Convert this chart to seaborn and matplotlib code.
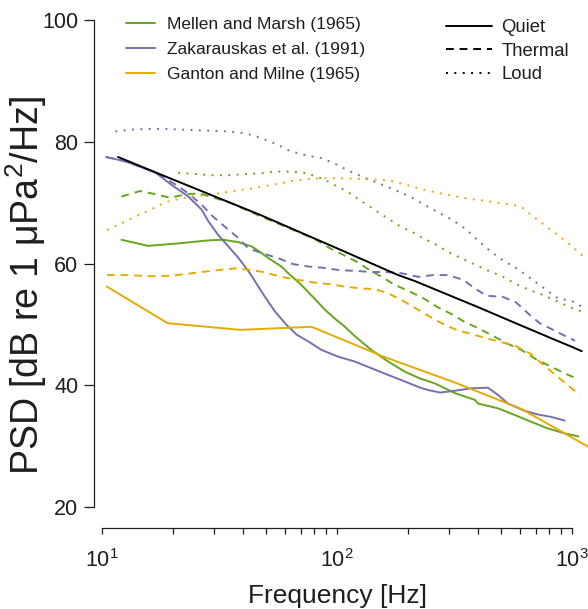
import matplotlib
matplotlib.use("Agg")
import matplotlib.pyplot as plt
from matplotlib.lines import Line2D
import pandas as pd
import seaborn as sns

# ---------------------------------------------------------------------------
# Ambient-noise spectra (frequency in Hz, PSD in dB re 1 uPa^2/Hz)
# ---------------------------------------------------------------------------
studies = ["Mellen and Marsh (1965)", "Zakarauskas et al. (1991)", "Ganton and Milne (1965)"]
conditions = ["Quiet", "Thermal", "Loud"]
study_colors = ["#66a61e", "#7570b3", "#e6ab02"]

# reference quiet curve
ref_freq = [11.7, 16.8, 47, 100, 182, 215, 400, 600, 818, 1000, 1100]
ref_psd = [77.5, 75.0, 68.0, 62.5, 58.1, 57.1, 52.8, 49.9, 47.7, 46.3, 45.6]

# Mellen and Marsh (1965)
mm_quiet_freq = [12.1, 15.7, 21.1, 28.4, 32.8, 38.1, 43.4, 47, 51, 58, 62, 69.6, 79, 88.9,
                 99.6, 106, 119.6, 140, 165, 195, 226, 261, 318, 386, 398, 485, 572, 670,
                 790, 930, 1063]
mm_quiet_psd = [63.9, 62.9, 63.3, 63.8, 63.9, 63.5, 62.8, 61.9, 60.9, 59.5, 58.4, 56.7, 54.5,
                52.4, 50.7, 49.9, 48.0, 45.8, 43.9, 42.2, 41.1, 40.3, 38.7, 37.6, 37.0, 36.2,
                35.1, 34.0, 32.9, 32.1, 31.6]
mm_thermal_freq = [12.1, 14.5, 16.8, 19.5, 22.9, 26.1, 35, 47, 60, 80.6, 93.4, 106.5, 121,
                   138, 155, 176, 204, 233, 266, 307, 349, 398, 461, 527, 609, 693, 790, 903,
                   1045]
mm_thermal_psd = [71.0, 71.9, 71.4, 70.8, 71.4, 71.5, 70.0, 67.8, 66.1, 64.0, 62.5, 61.4, 60.3,
                  58.9, 57.8, 56.5, 55.4, 54.3, 52.9, 51.7, 50.4, 49.4, 48.1, 46.9, 45.8, 44.4,
                  43.3, 42.2, 41.1]
mm_loud_freq = [21.1, 24.9, 29.3, 34.5, 40.6, 47, 54.6, 64.2, 75.6, 80.6, 87.4, 93.4, 99.7,
                107, 115, 123, 131, 140, 150, 160, 171, 182, 198, 211, 226, 261, 297, 345,
                398, 458, 494, 572, 664, 757, 873, 1011, 1099]
mm_loud_psd = [74.9, 74.7, 74.5, 74.5, 74.7, 74.8, 75.1, 75.1, 74.8, 74.3, 73.9, 73.3, 72.7,
               72.1, 71.4, 70.6, 69.9, 69.2, 68.4, 67.7, 67.0, 66.3, 65.6, 65.1, 64.4, 63.2,
               61.9, 60.7, 59.6, 58.5, 58.1, 56.7, 55.6, 54.8, 53.7, 52.6, 52.1]

# Zakarauskas et al. (1991)
zk_quiet_freq = [10.4, 12.5, 14.5, 16.8, 19.8, 23.3, 26.6, 28.4, 31.2, 34.5, 38.1, 42.6, 47,
                 49.4, 54.5, 61, 67.4, 75.4, 86, 101, 119, 140, 165, 195, 226, 245, 275, 318,
                 374, 439, 485, 534, 628, 716, 815, 930]
zk_quiet_psd = [77.5, 76.8, 75.9, 75.0, 72.9, 71.0, 68.8, 66.9, 64.7, 62.8, 60.9, 58.4, 55.8,
                54.5, 52.1, 49.9, 48.3, 47.2, 45.8, 44.7, 43.9, 42.8, 41.7, 40.6, 39.6, 39.2,
                38.8, 39.1, 39.5, 39.6, 38.4, 37.0, 35.8, 35.2, 34.8, 34.2]
zk_thermal_freq = [10.4, 12.5, 14.5, 16.8, 21.1, 23.7, 26.6, 29.7, 33.9, 38, 41.9, 47.8, 56,
                   65, 75.5, 87, 103, 119, 140, 162, 188, 222, 257, 297, 345, 386, 433, 509,
                   579, 650, 728, 831, 946, 1030]
zk_thermal_psd = [77.5, 76.8, 75.9, 75.0, 72.7, 71.3, 69.6, 67.7, 65.8, 64.2, 62.5, 61.7, 60.9,
                  59.9, 59.5, 59.3, 58.9, 58.8, 58.6, 58.6, 58.4, 57.8, 58.1, 58.1, 57.3, 55.9,
                  54.7, 54.5, 53.6, 51.8, 50.2, 49.1, 48.0, 47.3]
zk_loud_freq = [11.4, 13.4, 15.7, 18.5, 21.8, 25.3, 29.3, 34.5, 40.6, 47, 54.5, 63, 73, 86,
                99, 114, 131, 152, 176, 204, 234, 270, 311, 355, 397, 447, 509, 582, 664,
                757, 870, 1000, 1140]
zk_loud_psd = [81.7, 82.0, 82.1, 82.1, 82.0, 81.9, 81.8, 81.7, 81.4, 80.7, 79.7, 78.5, 77.8,
               77.3, 76.3, 75.1, 74.1, 73.1, 72.1, 71.0, 69.7, 68.4, 67.1, 65.6, 63.8, 62.1,
               60.5, 59.2, 57.6, 56.0, 54.3, 53.8, 52.6]

# Ganton and Milne (1965)
gm_quiet_freq = [10.5, 19, 38.7, 78, 160, 315, 610, 1172]
gm_quiet_psd = [56.2, 50.2, 49.1, 49.6, 44.6, 40.5, 36.1, 29.9]
gm_thermal_freq = [10.5, 12.7, 16.3, 19.8, 24.1, 29.3, 36.8, 41.8, 48.6, 58, 68.5, 79, 93.4,
                   108, 127, 145, 165, 188, 215, 245, 278, 322, 374, 433, 509, 579, 664, 743,
                   850, 946, 1080]
gm_thermal_psd = [58.1, 58.1, 57.9, 58.0, 58.4, 58.8, 59.2, 59.0, 58.6, 57.8, 57.3, 56.9, 56.6,
                  56.2, 55.9, 55.8, 55.1, 54.0, 52.7, 51.4, 50.2, 49.1, 48.4, 47.7, 47.0, 46.4,
                  45.2, 43.6, 41.7, 40.2, 38.4]
gm_loud_freq = [10.5, 12.1, 14.0, 16.2, 18.7, 21.8, 25.5, 30, 35, 41, 47.8, 55.9, 65.6, 76.8,
                89.4, 104, 123, 145, 169, 198, 229, 268, 314, 367, 429, 501, 584, 626, 664,
                758, 862, 974, 1100, 1160]
gm_loud_psd = [65.5, 66.6, 67.8, 68.9, 70.1, 70.7, 71.1, 71.4, 71.8, 72.2, 72.6, 73.1, 73.6,
               73.9, 74.0, 74.0, 73.9, 73.8, 73.6, 72.9, 72.2, 71.6, 71.1, 70.6, 70.3, 69.9,
               69.5, 69.0, 68.1, 66.4, 64.8, 63.2, 61.4, 60.6]

series = [
    (studies[0], "Quiet", mm_quiet_freq, mm_quiet_psd),
    (studies[0], "Thermal", mm_thermal_freq, mm_thermal_psd),
    (studies[0], "Loud", mm_loud_freq, mm_loud_psd),
    (studies[1], "Quiet", zk_quiet_freq, zk_quiet_psd),
    (studies[1], "Thermal", zk_thermal_freq, zk_thermal_psd),
    (studies[1], "Loud", zk_loud_freq, zk_loud_psd),
    (studies[2], "Quiet", gm_quiet_freq, gm_quiet_psd),
    (studies[2], "Thermal", gm_thermal_freq, gm_thermal_psd),
    (studies[2], "Loud", gm_loud_freq, gm_loud_psd),
]
df = pd.concat(
    [pd.DataFrame({"freq": f, "psd": p, "study": s, "condition": c}) for s, c, f, p in series],
    ignore_index=True,
)
ref_df = pd.DataFrame({"freq": ref_freq, "psd": ref_psd})

# ---------------------------------------------------------------------------
sns.set_theme(style="ticks")
plt.rcParams["font.family"] = ["Liberation Sans", "DejaVu Sans"]
plt.rcParams["mathtext.fontset"] = "custom"
plt.rcParams["mathtext.rm"] = "Liberation Sans"
plt.rcParams["mathtext.it"] = "Liberation Sans:italic"
plt.rcParams["mathtext.default"] = "regular"
ink = "#1e1e1e"
plt.rcParams["text.color"] = ink
plt.rcParams["axes.labelcolor"] = ink
plt.rcParams["xtick.color"] = ink
plt.rcParams["ytick.color"] = ink

LW = 1.4
dash_styles = {"Quiet": "", "Thermal": (4, 3), "Loud": (1, 3.3)}
palette = dict(zip(studies, study_colors))

fig = plt.figure(figsize=(5.88, 6.09), dpi=100)
ax = fig.add_axes([102 / 588, 1 - 507 / 609, 470 / 588, 487 / 609])

sns.lineplot(data=df, x="freq", y="psd", hue="study", style="condition",
             hue_order=studies, style_order=conditions, palette=palette,
             dashes=dash_styles, estimator=None, sort=False, linewidth=LW,
             legend=False, ax=ax, clip_on=False)
sns.lineplot(data=ref_df, x="freq", y="psd", color="black", linewidth=LW,
             estimator=None, sort=False, ax=ax, clip_on=False)

ax.set_xscale("log")
ax.set_xlim(10, 1000)
ax.set_ylim(20, 100)
ax.set_yticks([20, 40, 60, 80, 100])

for side in ("top", "right"):
    ax.spines[side].set_visible(False)
ax.spines["left"].set_position(("outward", 5.8))
ax.spines["bottom"].set_position(("outward", 15))
for side in ("left", "bottom"):
    ax.spines[side].set_linewidth(0.9)
    ax.spines[side].set_color(ink)

ax.tick_params(axis="y", which="major", length=7.2, width=0.9, pad=4, labelsize=15.5)
ax.tick_params(axis="x", which="both", length=4.3, width=0.9)
ax.tick_params(axis="x", which="major", pad=11, labelsize=15.5)

ax.set_xlabel("Frequency [Hz]", fontsize=19, labelpad=9)
ax.set_ylabel("PSD [dB re 1 \u03bcPa$^2$/Hz]", fontsize=27)
ax.yaxis.set_label_coords(-0.112, 0.455)

study_handles = [Line2D([], [], color=c, lw=LW) for c in study_colors]
fig.legend(study_handles, studies, loc="upper left",
           bbox_to_anchor=(126 / 588, 1 - 16.5 / 609), frameon=False, borderpad=0,
           borderaxespad=0, fontsize=12.5, handlelength=1.65, handletextpad=0.72,
           labelspacing=0.58)

cond_handles = [Line2D([], [], color="black", lw=LW, dashes=dash_styles[c]) if dash_styles[c]
                else Line2D([], [], color="black", lw=LW) for c in conditions]
fig.legend(cond_handles, conditions, loc="upper left",
           bbox_to_anchor=(446 / 588, 1 - 19 / 609), frameon=False, borderpad=0,
           borderaxespad=0, fontsize=13.3, handlelength=2.5, handletextpad=0.5,
           labelspacing=0.36)

fig.savefig("out.png", dpi=100)
